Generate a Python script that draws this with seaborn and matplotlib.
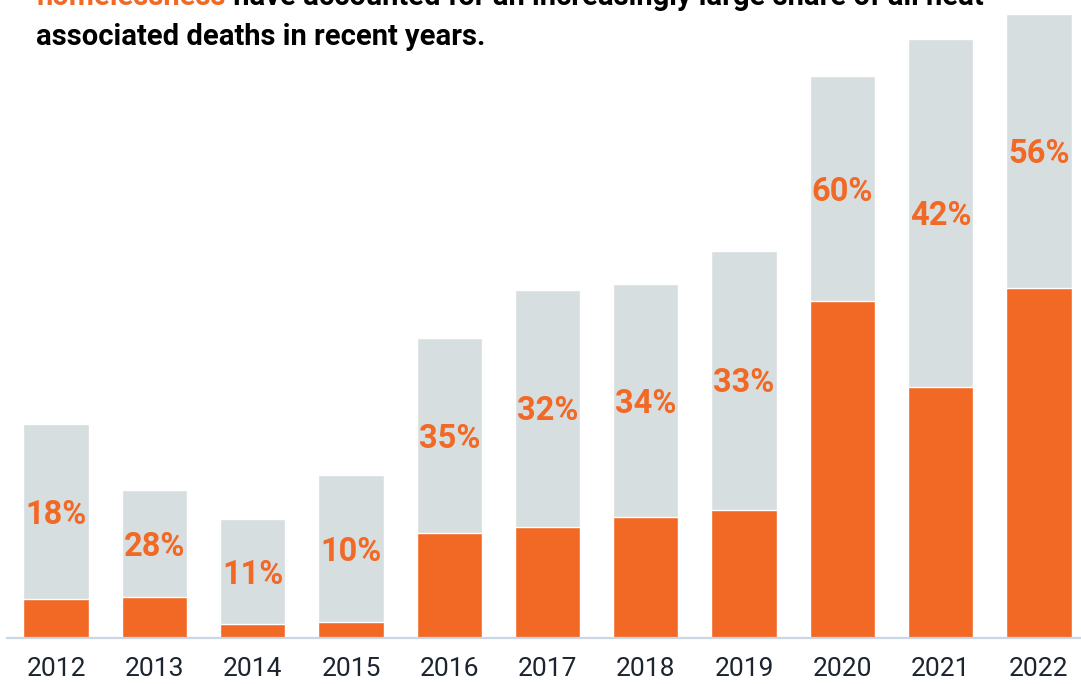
import matplotlib
matplotlib.use("Agg")
import matplotlib.pyplot as plt
import seaborn as sns
import pandas as pd

# Heat-associated deaths per year and the subset among people experiencing homelessness
years = ["2012", "2013", "2014", "2015", "2016", "2017", "2018", "2019", "2020", "2021", "2022"]
total_deaths = [110, 76, 61, 84, 154, 179, 182, 199, 289, 308, 321]
homeless_deaths = [20, 21, 7, 8, 54, 57, 62, 66, 173, 129, 180]

ORANGE = "#f26926"
GREY = "#d7dee0"
AXIS = "#c9d6e3"
TEXT = "#1c2430"

sns.set_theme(style="white")
plt.rcParams["font.family"] = ["Roboto", "DejaVu Sans"]

df = pd.DataFrame({"year": years, "total": total_deaths, "homeless": homeless_deaths})
df["share"] = df["homeless"] / df["total"] * 100

W, H = 1081, 684
fig = plt.figure(figsize=(W / 100, H / 100), dpi=100)
ax = fig.add_axes([7 / W, 46 / H, 1081 / W, 638 / H])

sns.barplot(data=df, x="year", y="total", color=GREY, saturation=1, width=0.665, ax=ax)
sns.barplot(data=df, x="year", y="homeless", color=ORANGE, saturation=1, width=0.665, ax=ax)

# Share labels sit in the middle of the grey (non-homeless) part of each bar
for i, row in df.iterrows():
    ax.annotate(f"{row['share']:.0f}%", xy=(i, (row["total"] + row["homeless"]) / 2),
                xytext=(0, -3), textcoords="offset pixels",
                ha="center", va="center", fontsize=23.5, fontweight="bold", color=ORANGE)

ax.set_ylim(0, 328)
ax.set_xlim(-0.5, 10.5)
ax.set_xlabel("")
ax.set_ylabel("")
ax.set_yticks([])
for side in ["left", "right", "top"]:
    ax.spines[side].set_visible(False)
ax.spines["bottom"].set_color(AXIS)
ax.spines["bottom"].set_linewidth(1.6)
ax.tick_params(axis="x", length=0, pad=13.5, labelsize=19, labelcolor=TEXT)

# Headline (first line runs off the top edge)
HEAD = 21
t1 = fig.text(36 / W, 1 - 5 / H, "homelessness", color=ORANGE, fontsize=HEAD,
              fontweight="bold", va="baseline", ha="left")
fig.canvas.draw()
bb = t1.get_window_extent()
fig.text(bb.x1 / W, 1 - 5 / H, " have accounted for an increasingly large share of all heat",
         color="black", fontsize=HEAD, fontweight="bold", va="baseline", ha="left")
fig.text(36 / W, 1 - 45 / H, "associated deaths in recent years.", color="black",
         fontsize=HEAD, fontweight="bold", va="baseline", ha="left")

fig.savefig("out.png", dpi=100)
